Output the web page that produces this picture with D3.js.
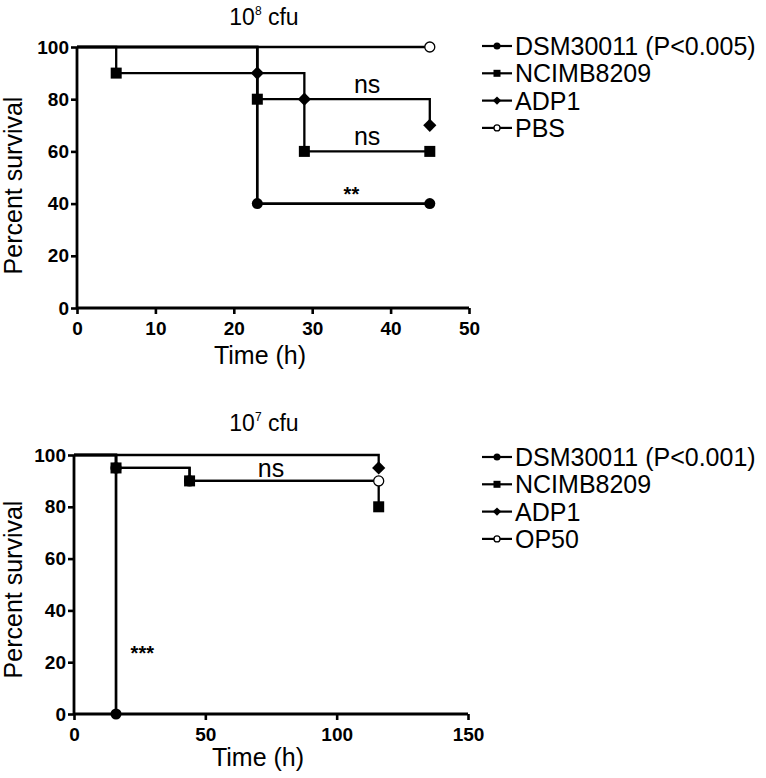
<!DOCTYPE html>
<html>
<head>
<meta charset="utf-8">
<script src="https://cdn.jsdelivr.net/npm/d3@7"></script>
<style>
  body { margin: 0; background: #fff; }
  text { font-family: "Liberation Sans", Arial, sans-serif; fill: #000; }
</style>
</head>
<body>
<script>
// 10^8 cfu panel
const names8 = ["DSM30011 (P<0.005)", "NCIMB8209", "ADP1", "PBS"];
const dsm8 = [[0, 100], [23, 40], [45, 40]];
const ncimb8 = [[0, 100], [5, 90], [23, 80], [29, 60], [45, 60]];
const adp8 = [[0, 100], [23, 90], [29, 80], [45, 70]];
const pbs8 = [[0, 100], [45, 100]];
const xTicks8 = [0, 10, 20, 30, 40, 50];

// 10^7 cfu panel
const names7 = ["DSM30011 (P<0.001)", "NCIMB8209", "ADP1", "OP50"];
const dsm7 = [[0, 100], [16, 0]];
const ncimb7 = [[0, 100], [16, 95], [44, 90], [116, 80]];
const adp7 = [[0, 100], [116, 95]];
const op7 = [[0, 100], [16, 95], [44, 90], [116, 90]];
const xTicks7 = [0, 50, 100, 150];

const yTicks = [0, 20, 40, 60, 80, 100];
const symbols = ["circle", "square", "diamond", "open"];

const width = 766, height = 778;
const svg = d3.select("body").append("svg")
    .attr("width", width)
    .attr("height", height);

function marker(g, type, x, y, s) {
    if (type === "circle") {
        g.append("circle").attr("cx", x).attr("cy", y).attr("r", s / 2).attr("fill", "#000");
    } else if (type === "open") {
        g.append("circle").attr("cx", x).attr("cy", y).attr("r", s / 2 - 0.5)
            .attr("fill", "#fff").attr("stroke", "#000").attr("stroke-width", 1.3);
    } else if (type === "square") {
        g.append("rect").attr("x", x - s / 2).attr("y", y - s / 2)
            .attr("width", s).attr("height", s).attr("fill", "#000");
    } else if (type === "diamond") {
        const d = s * 0.6;
        g.append("path")
            .attr("d", `M${x},${y - d}L${x + d},${y}L${x},${y + d}L${x - d},${y}Z`)
            .attr("fill", "#000");
    }
}

function panel(opt) {
    const x = d3.scaleLinear().domain([0, opt.xMax]).range([opt.left, opt.right]);
    const y = d3.scaleLinear().domain([0, 100]).range([opt.bottom, opt.top]);
    const g = svg.append("g");

    // title
    const t = g.append("text")
        .attr("x", 264).attr("y", opt.titleY)
        .attr("text-anchor", "middle")
        .attr("font-size", "23px");
    t.append("tspan").text("10");
    t.append("tspan").attr("font-size", "12px").attr("dy", -10).text(opt.exp);
    t.append("tspan").attr("dy", 10).text(" cfu");

    // axes
    const yAxis = g.append("g")
        .attr("transform", `translate(${opt.left},0)`)
        .call(d3.axisLeft(y).tickValues(yTicks).tickSize(6).tickPadding(2));
    const xAxis = g.append("g")
        .attr("transform", `translate(0,${opt.bottom})`)
        .call(d3.axisBottom(x).tickValues(opt.xTicks).tickSize(6).tickPadding(8));
    [xAxis, yAxis].forEach(a => {
        a.select(".domain").attr("stroke", "#000").attr("stroke-width", 2.8);
        a.selectAll(".tick line").attr("stroke", "#000").attr("stroke-width", 2.6);
        a.selectAll(".tick text")
            .attr("font-family", "Liberation Sans, Arial, sans-serif")
            .attr("font-weight", "bold")
            .attr("font-size", "19px")
            .attr("fill", "#000");
    });
    xAxis.select(".domain").attr("d", `M${opt.left},0H${opt.right}`);
    yAxis.select(".domain").attr("d", `M0,${opt.bottom}V${opt.top}`);

    g.append("text")
        .attr("transform", `translate(${opt.yLabelX},${(opt.top + opt.bottom) / 2 + opt.yLabelShift}) rotate(-90)`)
        .attr("text-anchor", "middle")
        .attr("dy", "0.35em")
        .attr("font-size", "25px")
        .text("Percent survival");
    g.append("text")
        .attr("x", (opt.left + opt.right) / 2 - 13)
        .attr("y", opt.xLabelY)
        .attr("text-anchor", "middle")
        .attr("font-size", "25px")
        .text("Time (h)");

    const line = d3.line()
        .x(d => x(d[0]))
        .y(d => y(d[1]))
        .curve(d3.curveStepAfter);

    // open series first, filled ones on top
    const order = [3, 2, 1, 0];
    order.forEach(i => {
        g.append("path")
            .datum(opt.data[i])
            .attr("d", line)
            .attr("fill", "none")
            .attr("stroke", "#000")
            .attr("stroke-width", i === 0 ? 2.7 : 2.3);
    });
    order.forEach(i => {
        opt.data[i].slice(1).forEach(d => marker(g, symbols[i], x(d[0]), y(d[1]), 11));
    });

    // annotations
    opt.notes.forEach(n => {
        g.append("text")
            .attr("x", x(n.t)).attr("y", y(n.v))
            .attr("text-anchor", "middle")
            .attr("font-size", n.size)
            .attr("font-weight", n.bold ? "bold" : "normal")
            .text(n.label);
    });

    // legend
    const lg = g.append("g");
    opt.names.forEach((name, i) => {
        const cy = opt.legendY + i * 27.3;
        lg.append("line")
            .attr("x1", 482).attr("x2", 512)
            .attr("y1", cy).attr("y2", cy)
            .attr("stroke", "#000").attr("stroke-width", 2.2);
        marker(lg, symbols[i], 497, cy, 7);
        lg.append("text")
            .attr("x", 515).attr("y", cy)
            .attr("dy", "0.36em")
            .attr("font-size", "25px")
            .text(name);
    });
}

panel({
    xMax: 50, left: 77, right: 469, top: 47, bottom: 308,
    xTicks: xTicks8, exp: "8", titleY: 25, yLabelX: 13, yLabelShift: 8, xLabelY: 364,
    data: [dsm8, ncimb8, adp8, pbs8], names: names8, legendY: 46,
    notes: [
        { t: 37, v: 82.5, label: "ns", size: "25px" },
        { t: 37, v: 62.5, label: "ns", size: "25px" },
        { t: 35, v: 41, label: "**", size: "20px", bold: true }
    ]
});

panel({
    xMax: 150, left: 74, right: 468, top: 455, bottom: 714,
    xTicks: xTicks7, exp: "7", titleY: 431, yLabelX: 13, yLabelShift: 5, xLabelY: 766,
    data: [dsm7, ncimb7, adp7, op7], names: names7, legendY: 457,
    notes: [
        { t: 75, v: 91.5, label: "ns", size: "25px" },
        { t: 26, v: 21, label: "***", size: "20px", bold: true }
    ]
});
</script>
</body>
</html>
